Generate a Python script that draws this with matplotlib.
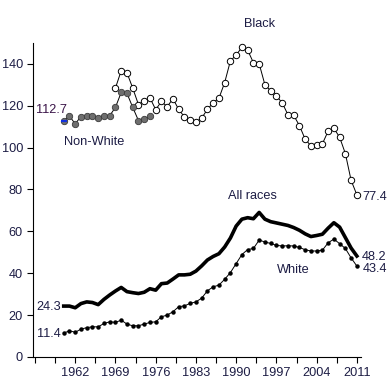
import numpy as np
import matplotlib
matplotlib.use('Agg')
import matplotlib.pyplot as plt

plt.rcParams['font.family'] = ['Liberation Sans', 'DejaVu Sans']

# data
years = list(range(1960, 2012))

all_races = [24.3, 24.3, 23.5, 25.5, 26.3, 26.0, 25.0, 27.5, 29.6, 31.5,
             33.2, 31.2, 30.7, 30.3, 30.9, 32.6, 31.9, 35.0, 35.3, 37.2,
             39.2, 39.2, 39.5, 41.0, 43.5, 46.3, 48.0, 49.3, 52.5, 56.8,
             62.5, 65.8, 66.5, 66.0, 69.0, 65.8, 64.6, 64.0, 63.4, 62.8,
             61.8, 60.5, 58.8, 57.5, 58.0, 58.6, 61.5, 64.1, 62.0, 57.0,
             52.0, 48.2]

white = [11.4, 12.5, 11.8, 13.3, 14.0, 14.4, 14.4, 16.0, 16.8, 16.5,
         17.6, 15.7, 14.9, 14.9, 15.7, 16.5, 16.8, 19.2, 20.0, 21.6,
         24.0, 24.4, 25.6, 26.3, 28.1, 31.6, 33.5, 34.3, 37.1, 40.3,
         44.6, 48.9, 51.3, 51.8, 55.8, 54.9, 54.2, 53.3, 53.0, 53.1,
         53.0, 52.3, 51.2, 50.6, 50.6, 51.0, 54.5, 56.3, 54.1, 51.8,
         47.3, 43.4]

nonwhite_years = list(range(1960, 1976))
nonwhite = [112.7, 115.0, 111.3, 114.8, 114.9, 115.2, 114.0, 115.0, 115.2, 119.2,
            126.3, 125.9, 119.2, 112.9, 113.6, 114.9]

black_years = list(range(1969, 2012))
black = [128.4, 136.7, 135.7, 128.4, 120.5, 122.4, 123.7, 118.1, 122.0, 119.5,
         123.3, 118.2, 114.6, 113.2, 112.0, 114.1, 118.2, 121.4, 123.5, 131.0,
         141.4, 144.1, 147.9, 146.5, 140.5, 140.0, 130.0, 127.1, 124.6, 121.4,
         115.7, 115.4, 110.5, 104.0, 100.8, 101.4, 101.8, 107.8, 109.2, 104.9,
         97.1, 84.3, 77.4]

xtick_years = [1962, 1969, 1976, 1983, 1990, 1997, 2004, 2011]
minor_years = [1955, 1958.5, 1965.5, 1972.5, 1979.5, 1986.5, 1993.5, 2000.5, 2007.5]
yticks = [0, 20, 40, 60, 80, 100, 120, 140]

txt = '#1c1c44'

fig = plt.figure(figsize=(3.91, 3.89), dpi=100)
ax = fig.add_axes([0.0836, 0.0823, 0.8394, 0.8077])

ax.plot(black_years, black, color='black', lw=0.7, marker='o', ms=4.6,
        mfc='white', mec='black', mew=0.7, zorder=3)
ax.plot(nonwhite_years, nonwhite, color='black', lw=0.7, marker='o', ms=4.6,
        mfc='#6e6e6e', mec='#3a3a3a', mew=0.6, zorder=4)
ax.plot(nonwhite_years[:1], nonwhite[:1], color='#1030e0', marker='_', ms=4,
        mew=1.6, ls='none', zorder=5)
ax.plot(years, all_races, color='black', lw=2.6, solid_joinstyle='round', zorder=3)
ax.plot(years, white, color='black', lw=0.7, marker='o', ms=2.2, zorder=3)

# series labels
ax.text(1994.1, 159, 'Black', ha='center', va='center', fontsize=9.2, color=txt, clip_on=False)
ax.text(1960.0, 102.4, 'Non-White', ha='left', va='center', fontsize=9.2, color=txt)
ax.text(1992.9, 76.7, 'All races', ha='center', va='center', fontsize=9.2, color=txt)
ax.text(2000.0, 41.4, 'White', ha='center', va='center', fontsize=9.2, color=txt)

# value labels
ax.annotate(f'{nonwhite[0]}', (nonwhite_years[0], nonwhite[0]), xytext=(2.4, 7.8),
            textcoords='offset points', ha='right', va='center', fontsize=9.2, color='#3a1448')
ax.annotate(f'{all_races[0]}', (years[0], all_races[0]), xytext=(-2.0, -0.7),
            textcoords='offset points', ha='right', va='center', fontsize=9.2, color=txt)
ax.annotate(f'{white[0]}', (years[0], white[0]), xytext=(-2.5, -0.4),
            textcoords='offset points', ha='right', va='center', fontsize=9.2, color=txt)
ax.annotate(f'{black[-1]}', (black_years[-1], black[-1]), xytext=(4.3, -1.4),
            textcoords='offset points', ha='left', va='center', fontsize=9.2, color=txt,
            annotation_clip=False)
ax.annotate(f'{all_races[-1]}', (years[-1], all_races[-1]), xytext=(3.6, -1.0),
            textcoords='offset points', ha='left', va='center', fontsize=9.2, color=txt,
            annotation_clip=False)
ax.annotate(f'{white[-1]}', (years[-1], white[-1]), xytext=(4.3, -2.2),
            textcoords='offset points', ha='left', va='center', fontsize=9.2, color=txt,
            annotation_clip=False)

ax.set_xlim(1954.6, 2011.7)
ax.set_ylim(0, 150)
ax.set_xticks(xtick_years)
ax.set_xticks(minor_years, minor=True)
ax.set_yticks(yticks)
ax.tick_params(axis='both', which='both', direction='out', length=4, width=0.8,
               labelsize=9.2, labelcolor=txt, pad=3)
for s in ['top', 'right']:
    ax.spines[s].set_visible(False)
for s in ['left', 'bottom']:
    ax.spines[s].set_linewidth(0.8)

fig.savefig('out.png', dpi=100)
